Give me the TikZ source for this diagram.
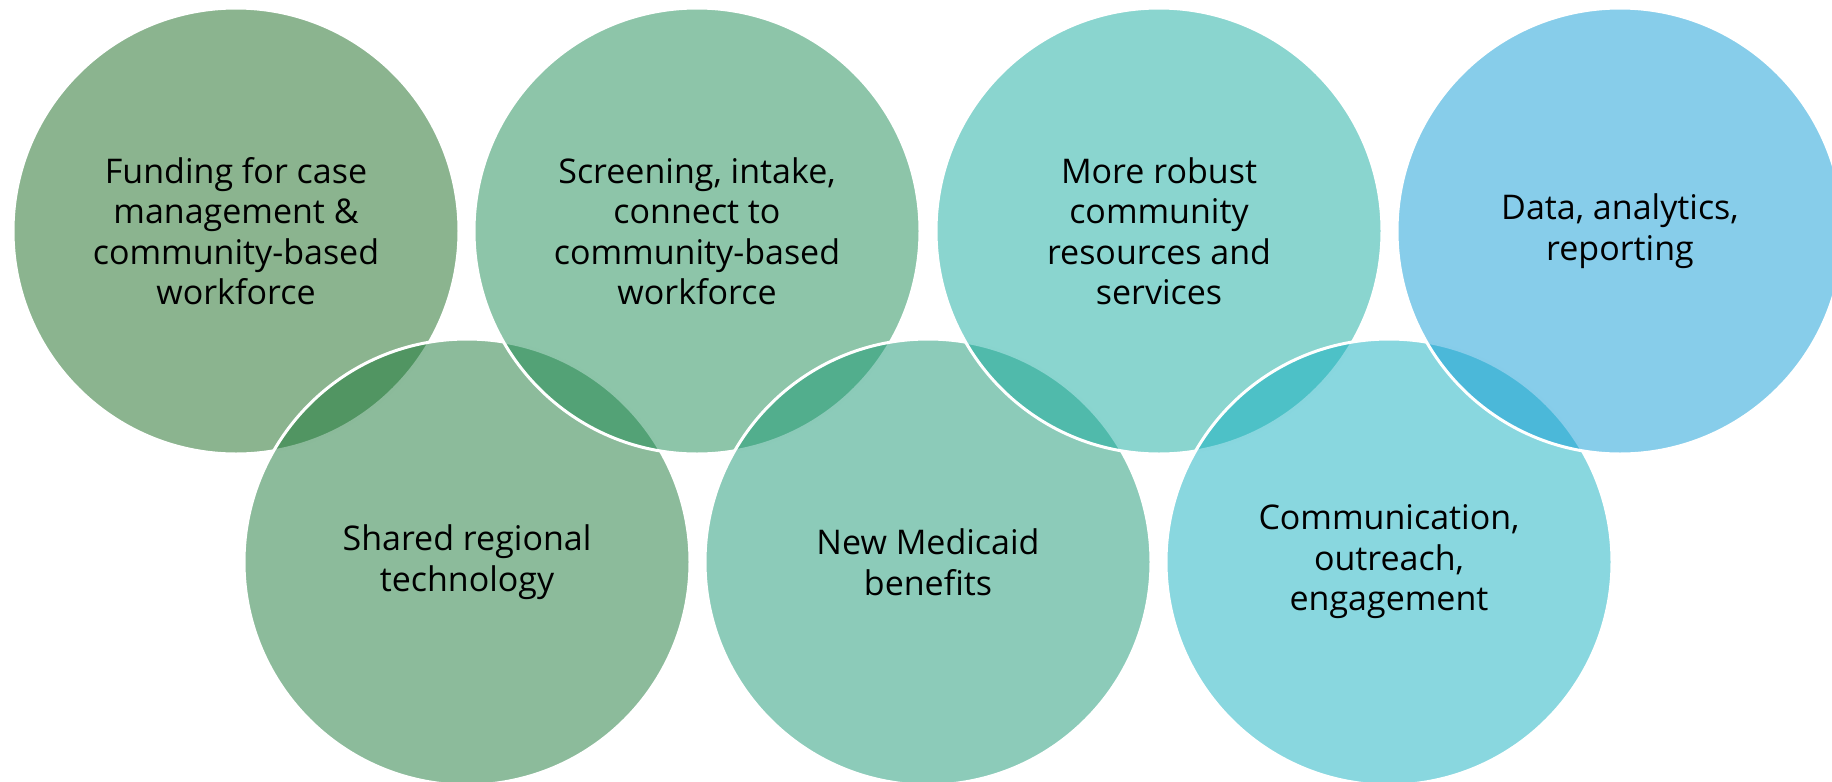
\documentclass[tikz,border=0pt]{standalone}
\usepackage{fontspec}
\setmainfont{Open Sans}
\definecolor{cA}{RGB}{23,105,31}
\definecolor{cB}{RGB}{27,139,83}
\definecolor{cC}{RGB}{21,171,159}
\definecolor{cD}{RGB}{15,155,213}
\definecolor{cE}{RGB}{25,119,55}
\definecolor{cF}{RGB}{25,151,115}
\definecolor{cG}{RGB}{19,175,191}
\begin{document}
\begin{tikzpicture}[x=1pt,y=-1pt,
  ring/.style={circle, minimum size=446pt, inner sep=0pt, draw=white,
    line width=3pt, fill opacity=0.5, text opacity=1, text=black,
    align=center, font=\fontsize{34}{40.5}\selectfont}]
\useasboundingbox (0,0) rectangle (1832,782);
\clip (0,0) rectangle (1832,782);
\node[ring, fill=cA] (c1) at (236,231) {Funding for case\\management \&\\community-based\\workforce};
\node[ring, fill=cE] (c5) at (467,562) {Shared regional\\technology};
\node[ring, fill=cB] (c2) at (697,231) {Screening, intake,\\connect to\\community-based\\workforce};
\node[ring, fill=cF] (c6) at (928,562) {New Medicaid\\benefits};
\node[ring, fill=cC] (c3) at (1159,231) {More robust\\community\\resources and\\services};
\node[ring, fill=cG] (c7) at (1389,562) {Communication,\\outreach,\\engagement};
\node[ring, fill=cD] (c4) at (1620,231) {Data, analytics,\\reporting};
\end{tikzpicture}
\end{document}
